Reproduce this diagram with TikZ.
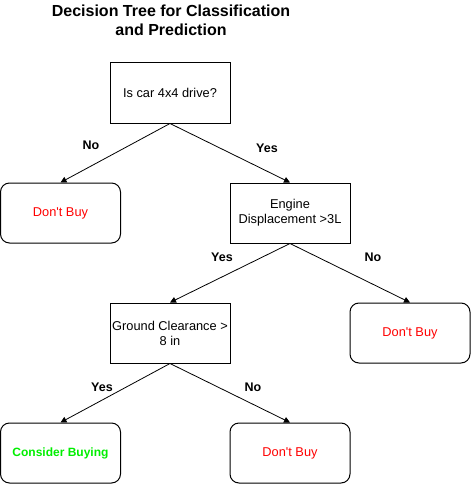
\documentclass[tikz,border=0pt]{standalone}
\usepackage{fontspec}
\setmainfont{Liberation Sans}
\usetikzlibrary{arrows.meta}
\definecolor{dtred}{HTML}{FF0000}
\definecolor{dtgreen}{HTML}{00EE00}
\newcommand{\dontbuy}{Don\textquotesingle t Buy}
\begin{document}
\begin{tikzpicture}[x=1pt,y=-1pt,
  qbox/.style={draw,line width=1pt,minimum width=120pt,minimum height=60pt,align=center,inner sep=2pt,font=\fontsize{12.8}{15}\selectfont},
  abox/.style={qbox,rounded corners=9pt},
  lbl/.style={font=\fontsize{12.5}{14}\selectfont\bfseries},
  conn/.style={line width=0.8pt,-{Triangle[length=6pt,width=6pt]}}]
\useasboundingbox (0,0) rectangle (471,484);
\node[font=\fontsize{16}{19}\selectfont\bfseries,align=center] (title) at (171,20) {Decision Tree for Classification\\and Prediction};
\node[qbox] (q1) at (170,93) {Is car 4x4 drive?};
\node[abox,text=dtred] (d1) at (60.5,213) {\dontbuy};
\node[qbox] (q2) at (290,213) {Engine\\Displacement >3L};
\node[qbox] (q3) at (170,333) {Ground Clearance >\\8 in};
\node[abox,text=dtred] (d2) at (410,333) {\dontbuy};
\node[abox,text=dtgreen,font=\fontsize{12}{14}\selectfont\bfseries] (c1) at (60.5,453) {Consider Buying};
\node[abox,text=dtred] (d3) at (290,453) {\dontbuy};
\draw[conn] (q1.south) -- (d1.north);
\draw[conn] (q1.south) -- (q2.north);
\draw[conn] (q2.south) -- (q3.north);
\draw[conn] (q2.south) -- (d2.north);
\draw[conn] (q3.south) -- (c1.north);
\draw[conn] (q3.south) -- (d3.north);
\node[lbl] (l1) at (91,145) {No};
\node[lbl] (l2) at (267,148) {Yes};
\node[lbl] (l3) at (222,257) {Yes};
\node[lbl] (l4) at (373,257) {No};
\node[lbl] (l5) at (102,387) {Yes};
\node[lbl] (l6) at (253,387) {No};
\end{tikzpicture}
\end{document}
